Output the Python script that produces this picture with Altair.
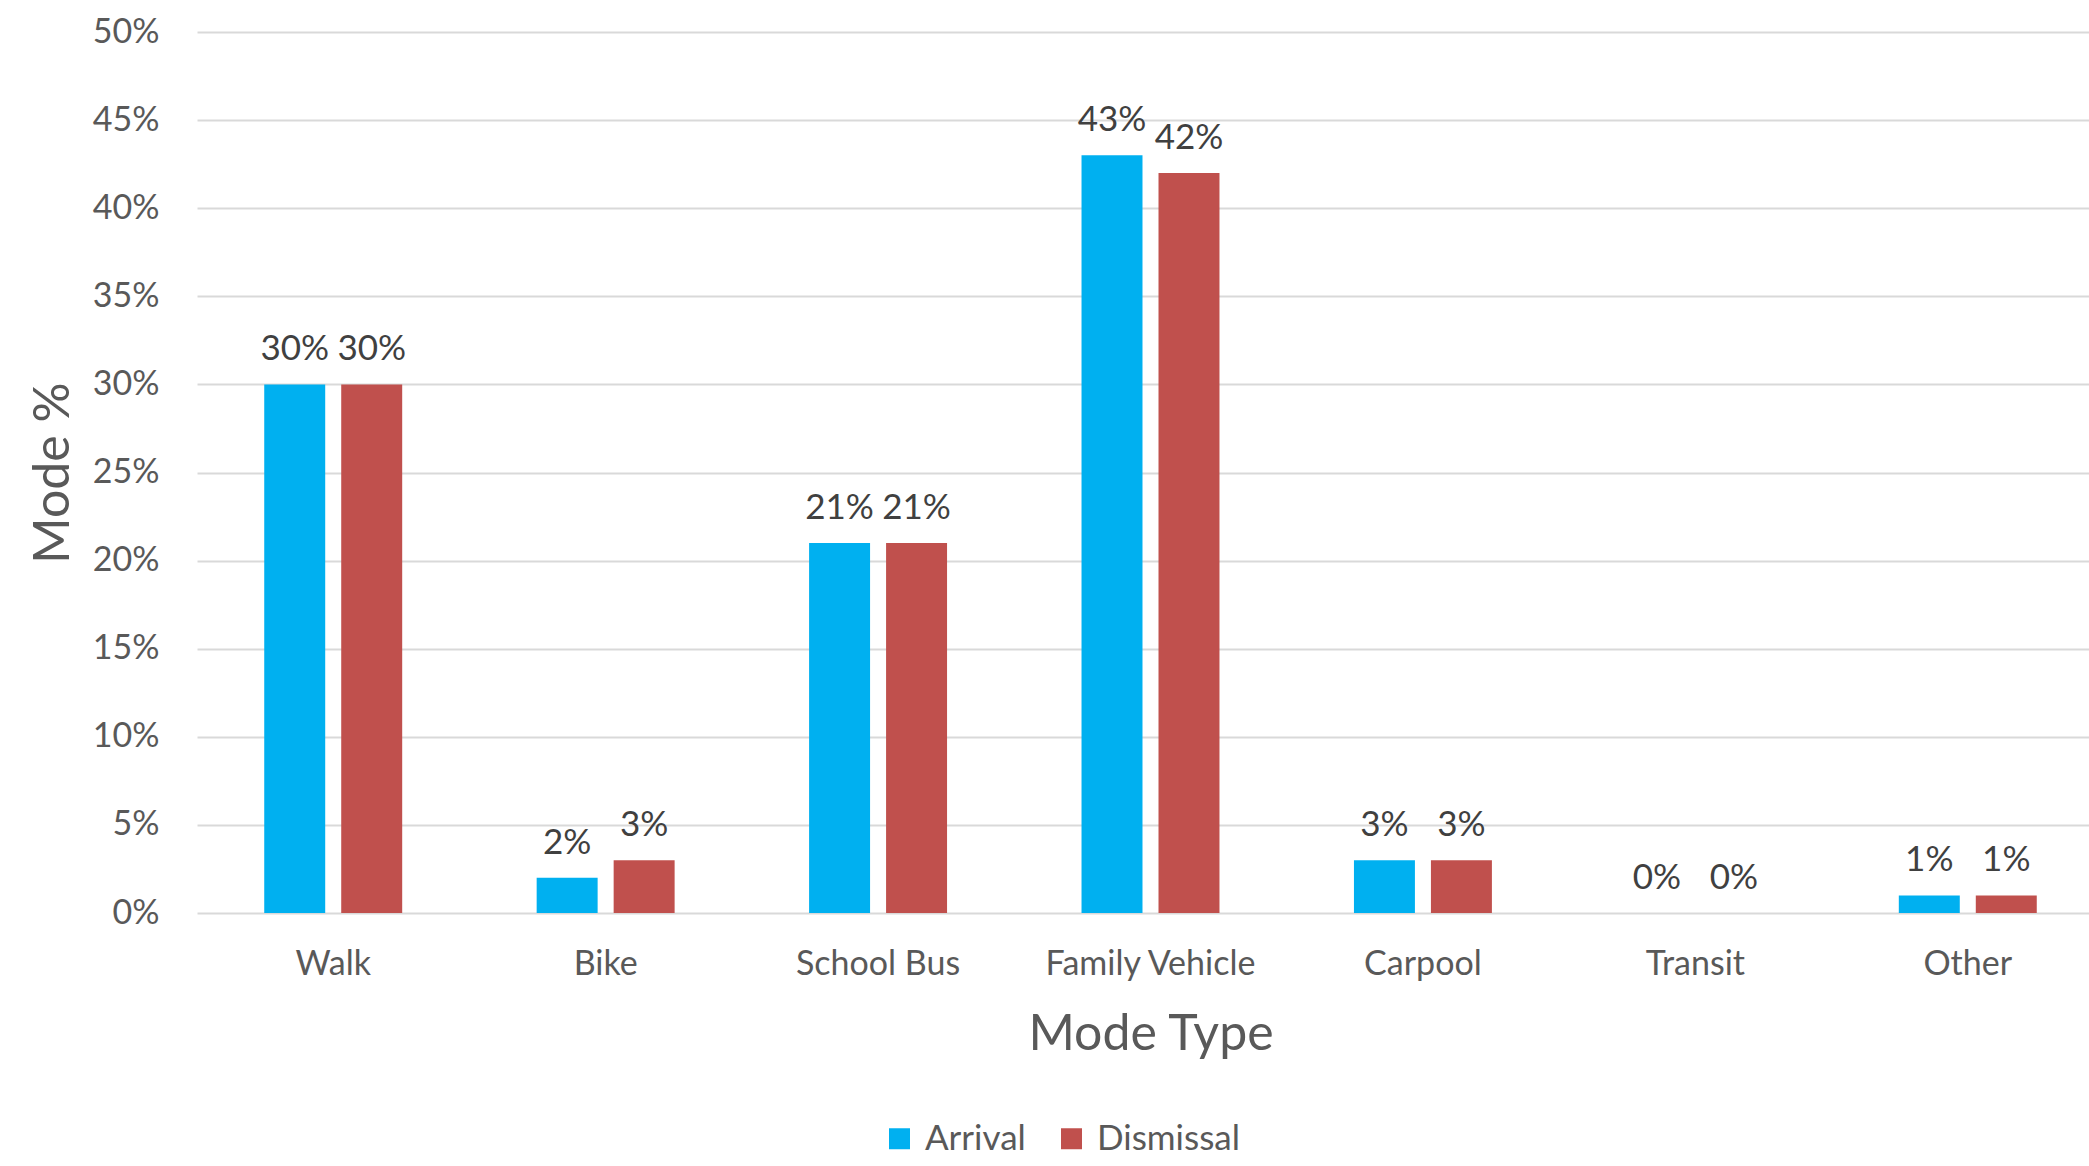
import altair as alt
import pandas as pd

# Share of trips by travel mode, morning arrival vs afternoon dismissal (percent)
modes = ["Walk", "Bike", "School Bus", "Family Vehicle", "Carpool", "Transit", "Other"]
arrival = [30, 2, 21, 43, 3, 0, 1]
dismissal = [30, 3, 21, 42, 3, 0, 1]
periods = ["Arrival", "Dismissal"]
period_colors = ["#00B0F0", "#C0504D"]
y_ticks = [0, 5, 10, 15, 20, 25, 30, 35, 40, 45, 50]

rows = []
for m, a, d in zip(modes, arrival, dismissal):
    rows.append({"mode": m, "period": "Arrival", "pct": a})
    rows.append({"mode": m, "period": "Dismissal", "pct": d})
df = pd.DataFrame(rows)

FONT = "Lato"
AXIS_GREY = "#595959"

x_enc = alt.X(
    "mode:N",
    sort=modes,
    title="Mode Type",
    scale=alt.Scale(range=[0, 1907], paddingInner=0.4936, paddingOuter=0.2468),
    axis=alt.Axis(
        labelAngle=0,
        labelFontSize=34,
        labelColor=AXIS_GREY,
        labelFont=FONT,
        labelPadding=34,
        labelLimit=500,
        titleFont=FONT,
        titleFontSize=50,
        titleFontWeight="normal",
        titleColor=AXIS_GREY,
        titlePadding=28,
        domain=False,
        ticks=False,
        grid=False,
    ),
)

x_off = alt.XOffset(
    "period:N",
    sort=periods,
    scale=alt.Scale(paddingInner=0.208, paddingOuter=0),
)

y_enc = alt.Y(
    "pct:Q",
    title="Mode %",
    scale=alt.Scale(domain=[0, 50], nice=False),
    axis=alt.Axis(
        values=y_ticks,
        labelExpr="datum.value + '%'",
        labelFontSize=34,
        labelColor=AXIS_GREY,
        labelFont=FONT,
        labelPadding=38,
        titleFont=FONT,
        titleFontSize=50,
        titleFontWeight="normal",
        titleColor=AXIS_GREY,
        titlePadding=14,
        domain=False,
        ticks=False,
        grid=True,
        gridColor="#D9D9D9",
        gridWidth=2,
    ),
)

color_enc = alt.Color(
    "period:N",
    sort=periods,
    scale=alt.Scale(domain=periods, range=period_colors),
    legend=alt.Legend(
        title=None,
        orient="none",
        direction="horizontal",
        legendX=685,
        legendY=1089,
        symbolType="square",
        symbolSize=441,
        symbolStrokeWidth=0,
        symbolOpacity=1,
        labelFont=FONT,
        labelFontSize=35,
        labelColor=AXIS_GREY,
        labelOffset=8,
        columnPadding=28,
    ),
)

bars = alt.Chart(df).mark_bar(opacity=1).encode(
    x=x_enc, xOffset=x_off, y=y_enc, color=color_enc
)

labels = (
    alt.Chart(df)
    .transform_calculate(label="datum.pct + '%'")
    .mark_text(
        baseline="alphabetic",
        align="center",
        dy=-24,
        font=FONT,
        fontSize=35,
        color="#404040",
    )
    .encode(x=x_enc, xOffset=x_off, y=y_enc, text="label:N")
)

chart = (
    alt.layer(bars, labels)
    .properties(
        width=1892,
        height=881,
        autosize=alt.AutoSizeParams(type="none"),
        padding={"left": 197, "top": 32, "right": 0, "bottom": 253},
        background="white",
    )
    .configure_view(stroke=None)
)

chart.save("out.html", embed_options={"renderer": "svg", "actions": False})
